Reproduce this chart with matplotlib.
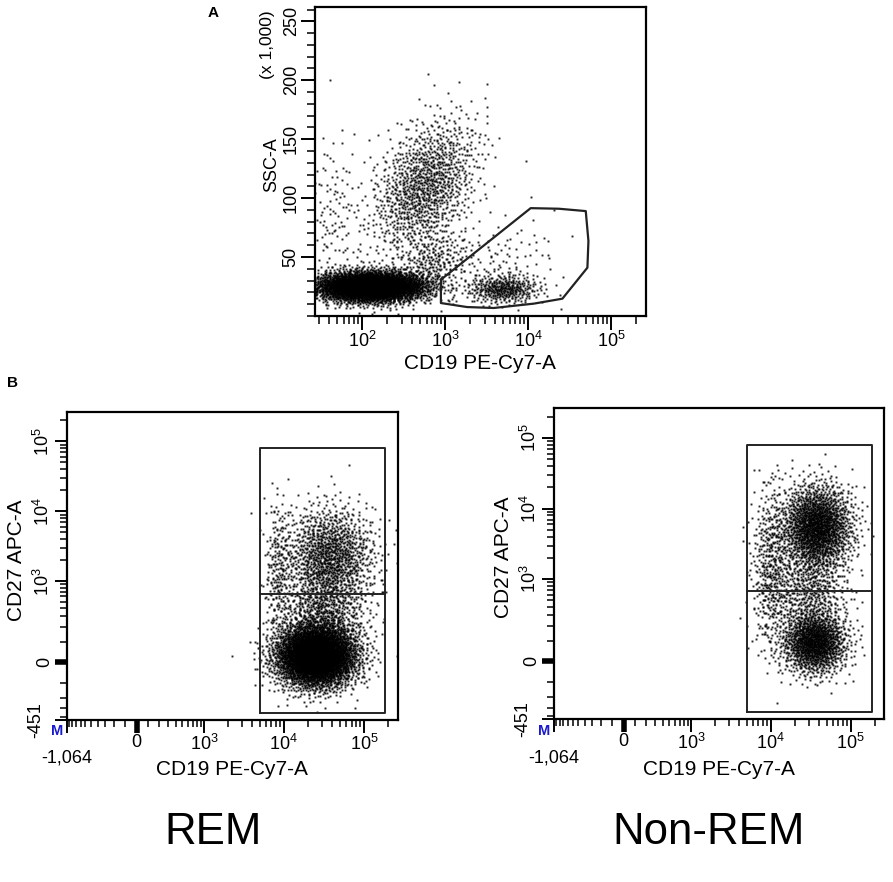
import numpy as np
import matplotlib
matplotlib.use("Agg")
import matplotlib.pyplot as plt
from matplotlib.ticker import FixedLocator, NullFormatter

plt.rcParams['font.family'] = ['Liberation Sans', 'DejaVu Sans']
plt.rcParams['mathtext.fontset'] = 'custom'
plt.rcParams['mathtext.rm'] = 'Liberation Sans'
plt.rcParams['mathtext.it'] = 'Liberation Sans:italic'
plt.rcParams['mathtext.bf'] = 'Liberation Sans:bold'

# ---------------- data ----------------
# Panel A: CD19 vs SSC populations (centre, spread in decades / SSC units, event count)
A_cx = [125, 560, 45, 5000, 4500, 700]
A_cy = [25000, 110000, 85000, 23000, 45000, 45000]
A_sx = [0.33, 0.32, 0.16, 0.22, 0.35, 0.22]
A_sy = [6500, 29000, 35000, 6000, 18000, 14000]
A_rho = [0.0, 0.4, 0.0, 0.0, 0.3, 0.3]
A_n = [4200, 1200, 120, 380, 110, 250]

# Panel A B-cell gate polygon
gateA_x = [887, 887, 1830, 3840, 11700, 25800, 51600, 53100, 49300, 23400, 10700, 887]
gateA_y = [30800, 11000, 7600, 6800, 10500, 14700, 41000, 63600, 89000, 91000, 91500, 30800]

# Panel B: CD19 vs CD27 populations (centre, spread in display decades, count)
REM_cx = [25000, 37000, 30000, 8500]
REM_cy = [30, 2250, 300, 1500]
REM_sx = [0.25, 0.28, 0.28, 0.08]
REM_sy = [0.22, 0.36, 0.30, 0.50]
REM_n = [4500, 1300, 700, 200]

NREM_cx = [37500, 35000, 10000, 30000]
NREM_cy = [5500, 90, 1500, 700]
NREM_sx = [0.22, 0.20, 0.12, 0.25]
NREM_sy = [0.30, 0.22, 0.60, 0.30]
NREM_n = [1900, 1400, 450, 500]

# Panel B gate (CD19+ box with CD27 split)
gateB_x = [5100, 184000]
gateB_y = [-350, 79000]
gateB_split = [650, 670]

xlim_A = [27, 262144]
ylim_A = [0, 262144]
xlim_B = [-1064, 262144]
ylim_B = [-451, 262144]

# ---------------- helpers ----------------
def radical_inverse(idx, base):
    idx = np.array(idx, dtype=np.int64)
    res = np.zeros(idx.shape, dtype=float)
    f = 1.0 / base
    while np.any(idx > 0):
        res += f * (idx % base)
        idx //= base
        f /= base
    return res

def qgauss(n, start, bases=(2, 3)):
    """Deterministic Halton sequence mapped to normal pairs (Box-Muller)."""
    idx = np.arange(start, start + n)
    u1 = radical_inverse(idx, bases[0])
    u2 = radical_inverse(idx, bases[1])
    u1 = np.clip(u1, 1e-4, 1.0)
    r = np.sqrt(-2.0 * np.log(u1))
    th = 2.0 * np.pi * u2
    return r * np.cos(th), r * np.sin(th)

CX = 292.0
CY = 139.0
LN10 = np.log(10.0)

def fwd_x(v):
    return np.arcsinh(np.asarray(v, dtype=float) / CX) / LN10

def inv_x(f):
    return CX * np.sinh(np.asarray(f, dtype=float) * LN10)

def fwd_y(v):
    return np.arcsinh(np.asarray(v, dtype=float) / CY) / LN10

def inv_y(f):
    return CY * np.sinh(np.asarray(f, dtype=float) * LN10)

BASES = [(2, 3), (2, 5), (3, 5), (2, 7), (3, 7), (5, 7)]

fig = plt.figure(figsize=(8.93, 8.82), dpi=100)

dot = dict(linestyle='none', marker='s', ms=1.4, mew=0, color='black', alpha=0.85)

# ---------------- Panel A ----------------
axA = fig.add_axes([315 / 893, 1 - 316 / 882, 331 / 893, 309 / 882])
start = 1
for k, (cx, cy, sx, sy, rho, n) in enumerate(zip(A_cx, A_cy, A_sx, A_sy, A_rho, A_n)):
    z1, z2 = qgauss(n, start, BASES[k % len(BASES)])
    start += 37
    lx = np.log10(cx) + sx * z1
    yy = cy + sy * (rho * z1 + np.sqrt(1 - rho ** 2) * z2)
    axA.plot(10 ** lx, yy, **dot)
axA.plot(gateA_x, gateA_y, color='#222222', lw=1.6)
axA.set_xscale('log')
axA.set_xlim(xlim_A)
axA.set_ylim(ylim_A)
axA.set_xticks([1e2, 1e3, 1e4, 1e5], ['$10^2$', '$10^3$', '$10^4$', '$10^5$'])
axA.xaxis.set_minor_locator(FixedLocator([m * 10 ** e for e in range(1, 6) for m in range(2, 10)
                                          if xlim_A[0] <= m * 10 ** e <= xlim_A[1]]))
axA.xaxis.set_minor_formatter(NullFormatter())
axA.set_yticks([50000, 100000, 150000, 200000, 250000], ['50', '100', '150', '200', '250'],
               rotation=90, va='center')
axA.yaxis.set_minor_locator(FixedLocator(np.arange(0, 262144, 10000)))
axA.tick_params(which='major', direction='out', length=10, width=1.4, labelsize=13, pad=1)
axA.tick_params(which='minor', direction='out', length=6, width=1.1)
for s in axA.spines.values():
    s.set_linewidth(1.6)
axA.set_xlabel('CD19 PE-Cy7-A', fontsize=15)
axA.xaxis.set_label_coords(0.498, -0.124)
axA.set_ylabel('SSC-A', fontsize=13)
axA.yaxis.set_label_coords(-0.106, 0.49)
axA.text(-0.142, 0.877, '(x 1,000)', transform=axA.transAxes, rotation=90,
         ha='center', va='center', fontsize=12.5)
fig.text(213 / 893, 1 - 13 / 882, 'A', fontsize=11, fontweight='bold', ha='center', va='center')
fig.text(12 / 893, 1 - 383 / 882, 'B', fontsize=11, fontweight='bold', ha='center', va='center')

# ---------------- Panel B ----------------
def panelB(rect, cxs, cys, sxs, sys_, ns, split, start):
    ax = fig.add_axes(rect)
    ax.set_xscale('function', functions=(fwd_x, inv_x))
    ax.set_yscale('function', functions=(fwd_y, inv_y))
    for k, (cx, cy, sx, sy, n) in enumerate(zip(cxs, cys, sxs, sys_, ns)):
        z1, z2 = qgauss(n, start, BASES[(k + 2) % len(BASES)])
        start += 53
        xx = inv_x(fwd_x(cx) + sx * z1)
        yy = inv_y(fwd_y(cy) + sy * z2)
        ax.plot(xx, yy, **dot)
    x0, x1 = gateB_x
    y0, y1 = gateB_y
    ax.plot([x0, x1, x1, x0, x0], [y0, y0, y1, y1, y0], color='#222222', lw=1.4)
    ax.plot([x0, x1], [split, split], color='#222222', lw=1.4)
    ax.set_xlim(xlim_B)
    ax.set_ylim(ylim_B)
    ax.set_xticks([-1064, 0, 1e3, 1e4, 1e5], ['', '0', '$10^3$', '$10^4$', '$10^5$'])
    lin = list(range(-1000, 0, 100)) + list(range(100, 1000, 100))
    logm = [m * 10 ** e for e in (3, 4) for m in range(2, 10)] + [200000]
    ax.xaxis.set_minor_locator(FixedLocator(lin + logm))
    ax.xaxis.set_minor_formatter(NullFormatter())
    ax.set_yticks([-451, 0, 1e3, 1e4, 1e5], ['', '0', '$10^3$', '$10^4$', '$10^5$'],
                  rotation=90, va='center')
    liny = list(range(-400, 0, 100)) + list(range(100, 1000, 100))
    ax.yaxis.set_minor_locator(FixedLocator(liny + logm))
    ax.yaxis.set_minor_formatter(NullFormatter())
    ax.tick_params(which='major', direction='out', length=9, width=1.4, labelsize=13, pad=1)
    ax.tick_params(which='minor', direction='out', length=5, width=1.1)
    for s in ax.spines.values():
        s.set_linewidth(1.6)
    ax.xaxis.get_major_ticks()[1].tick1line.set_markeredgewidth(4)
    ax.yaxis.get_major_ticks()[1].tick1line.set_markeredgewidth(4)
    ax.text(-1064, -0.123, '-1,064', transform=ax.get_xaxis_transform(),
            ha='center', va='center', fontsize=13)
    ax.text(-0.095, -451, '-451', transform=ax.get_yaxis_transform(), rotation=90,
            ha='center', va='center', fontsize=13)
    ax.text(-0.03, -0.037, 'M', transform=ax.transAxes, color='#1a1acc', fontsize=10.5,
            fontweight='bold', ha='center', va='center')
    ax.set_xlabel('CD19 PE-Cy7-A', fontsize=15)
    ax.xaxis.set_label_coords(0.5, -0.13)
    ax.set_ylabel('CD27 APC-A', fontsize=15)
    ax.yaxis.set_label_coords(-0.124, 0.52)
    return ax

panelB([66.7 / 893, 1 - 720 / 882, 331 / 893, 308 / 882],
       REM_cx, REM_cy, REM_sx, REM_sy, REM_n, gateB_split[0], 101)
panelB([554 / 893, 1 - 719.3 / 882, 330.3 / 893, 311 / 882],
       NREM_cx, NREM_cy, NREM_sx, NREM_sy, NREM_n, gateB_split[1], 307)

fig.text(213.5 / 893, 1 - 832 / 882, 'REM', fontsize=31.5, ha='center', va='center')
fig.text(708.5 / 893, 1 - 832 / 882, 'Non-REM', fontsize=31.5, ha='center', va='center')

fig.savefig('out.png', dpi=100)
